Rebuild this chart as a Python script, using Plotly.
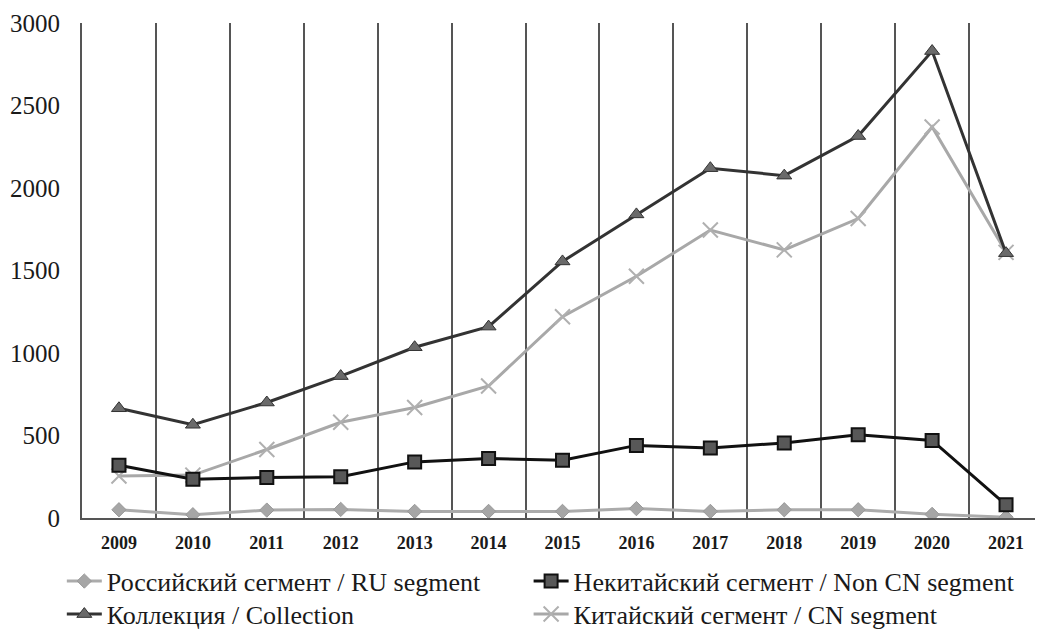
import plotly.graph_objects as go

years = [2009, 2010, 2011, 2012, 2013, 2014, 2015, 2016, 2017, 2018, 2019, 2020, 2021]
ru_segment = [50, 20, 48, 52, 40, 40, 40, 57, 40, 50, 50, 22, 5]
non_cn_segment = [320, 235, 245, 250, 340, 360, 350, 440, 425, 455, 505, 470, 80]
collection = [665, 565, 700, 860, 1035, 1160, 1555, 1840, 2120, 2075, 2315, 2830, 1605]
cn_segment = [255, 260, 415, 580, 670, 800, 1220, 1465, 1745, 1625, 1815, 2370, 1610]

name_ru = "Российский сегмент / RU segment"
name_noncn = "Некитайский сегмент / Non CN segment"
name_coll = "Коллекция / Collection"
name_cn = "Китайский сегмент / CN segment"

FONT = "'Liberation Serif', 'Times New Roman', serif"

fig = go.Figure()
fig.add_trace(go.Scatter(
    x=years, y=ru_segment, name=name_ru, mode="lines+markers",
    line=dict(color="#ababab", width=3),
    marker=dict(symbol="diamond", size=11, color="#a6a6a6", line=dict(color="#999999", width=1)),
    legend="legend",
))
fig.add_trace(go.Scatter(
    x=years, y=cn_segment, name=name_cn, mode="lines+markers",
    line=dict(color="#a8a8a8", width=3),
    marker=dict(symbol="x-thin", size=15, color="#b0b0b0", line=dict(color="#b0b0b0", width=2)),
    legend="legend4",
))
fig.add_trace(go.Scatter(
    x=years, y=non_cn_segment, name=name_noncn, mode="lines+markers",
    line=dict(color="#111111", width=3),
    marker=dict(symbol="square", size=13, color="#585858", line=dict(color="#111111", width=2)),
    legend="legend2",
))
fig.add_trace(go.Scatter(
    x=years, y=collection, name=name_coll, mode="lines+markers",
    line=dict(color="#333333", width=3),
    marker=dict(symbol="triangle-up", size=13, color="#6a6a6a", line=dict(color="#333333", width=1)),
    legend="legend3",
))

legend_common = dict(
    orientation="h", xref="container", yref="container",
    font=dict(family=FONT, size=26, color="#1a1a1a"),
    bgcolor="rgba(0,0,0,0)", itemwidth=35,
    xanchor="left", yanchor="middle",
)
COL1, COL2 = 0.052, 0.503
ROW1, ROW2 = 0.080, 0.027

# page body has an 8px margin, so the figure is sized to fit the window
fig.update_layout(
    width=1035, height=623,
    margin=dict(l=74, r=0, t=15, b=113),
    paper_bgcolor="white", plot_bgcolor="white",
    showlegend=True,
    legend=dict(x=COL1, y=ROW1, **legend_common),
    legend2=dict(x=COL2, y=ROW1, **legend_common),
    legend3=dict(x=COL1, y=ROW2, **legend_common),
    legend4=dict(x=COL2, y=ROW2, **legend_common),
    xaxis=dict(
        range=[2008.5, 2021.5], tickmode="array", tickvals=years,
        ticktext=[str(y) for y in years],
        tickfont=dict(family=FONT, size=18, color="#1a1a1a", weight="bold"),
        showgrid=False, zeroline=False, automargin=False,
        showline=True, linecolor="#555555", linewidth=2,
        ticks="outside", ticklen=7, tickcolor="rgba(0,0,0,0)",
        minor=dict(tick0=2009.5, dtick=1, showgrid=True, gridcolor="#555555", gridwidth=2, ticks=""),
    ),
    yaxis=dict(
        range=[0, 3000], tickmode="array", tickvals=[0, 500, 1000, 1500, 2000, 2500, 3000],
        tickfont=dict(family=FONT, size=25, color="#1a1a1a"),
        showgrid=False, zeroline=False, automargin=False,
        showline=True, linecolor="#555555", linewidth=2,
        ticks="outside", ticklen=15, tickcolor="rgba(0,0,0,0)",
    ),
)

fig.write_html("out.html")
